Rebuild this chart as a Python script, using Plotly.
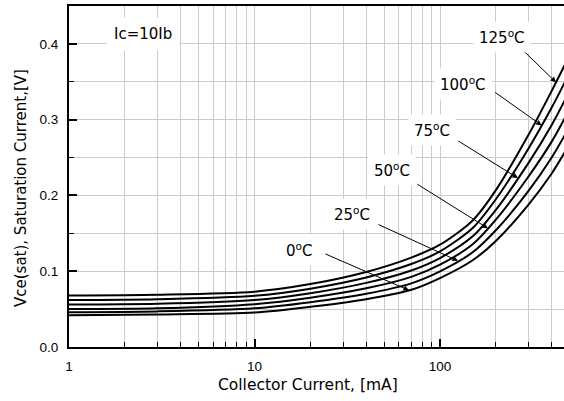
import numpy as np
import plotly.graph_objects as go

# ---- data ----
current_mA = [1, 3, 10, 20, 40, 70, 100, 150, 200, 300, 400, 500]
temp_labels = ["0", "25", "50", "75", "100", "125"]
vce_0C   = [0.042, 0.043, 0.0455, 0.053, 0.063, 0.0755, 0.091, 0.1145, 0.140, 0.188, 0.229, 0.268]
vce_25C  = [0.046, 0.047, 0.051, 0.059, 0.0702, 0.084, 0.0998, 0.125, 0.154, 0.206, 0.250, 0.291]
vce_50C  = [0.050, 0.051, 0.0565, 0.065, 0.0774, 0.0925, 0.1086, 0.1355, 0.168, 0.225, 0.271, 0.314]
vce_75C  = [0.056, 0.057, 0.062, 0.071, 0.0846, 0.101, 0.1174, 0.146, 0.181, 0.243, 0.293, 0.338]
vce_100C = [0.062, 0.063, 0.0675, 0.077, 0.0918, 0.1095, 0.1262, 0.157, 0.195, 0.262, 0.316, 0.362]
vce_125C = [0.068, 0.069, 0.073, 0.083, 0.099, 0.118, 0.135, 0.167, 0.207, 0.280, 0.338, 0.385]
series = [vce_0C, vce_25C, vce_50C, vce_75C, vce_100C, vce_125C]

x_major = [1, 10, 100]
x_major_text = ["1", "10", "100"]
x_minor = [2, 3, 4, 5, 6, 7, 8, 9, 20, 30, 40, 50, 60, 70, 80, 90, 200, 300, 400]
y_major = [0.0, 0.1, 0.2, 0.3, 0.4]
y_major_text = ["0.0", "0.1", "0.2", "0.3", "0.4"]

# where each label's arrow touches its curve (collector current, mA)
arrow_current = [68, 125, 181, 263, 353, 422]

FONT = "Liberation Sans, Arial, sans-serif"
LFONT = "DejaVu Sans, sans-serif"
W, H = 564, 401
L, R, T, B = 69, 564, 6, 347

def px(xp):
    return (xp - L) / (R - L)

def py(yp):
    return (B - yp) / (B - T)

fig = go.Figure()
for vals in series:
    fig.add_trace(go.Scatter(x=current_mA, y=vals, mode="lines",
                             line=dict(color="black", width=2, shape="spline", smoothing=0.8),
                             showlegend=False, hoverinfo="skip"))

# label positions (pixels) and arrow tail offsets (pixels relative to head)
label_pos = [(299, 250), (352, 214), (392, 170), (432, 130), (463, 84), (502, 37)]
arrow_off = [(-85, -37), (-81, -37), (-72, -45), (-61, -38), (-48, -34), (-34, -33)]

annotations = []
lx = np.log10(current_mA)
for t, vals, xc, (lpx, lpy), (ax, ay) in zip(temp_labels, series, arrow_current, label_pos, arrow_off):
    yv = float(np.interp(np.log10(xc), lx, vals))
    annotations.append(dict(x=np.log10(xc), y=yv, xref="x", yref="y", text="",
                            showarrow=True, ax=ax, ay=ay, arrowhead=2, arrowsize=1.1,
                            arrowwidth=1, arrowcolor="black"))
    annotations.append(dict(x=px(lpx), y=py(lpy), xref="paper", yref="paper",
                            text=f"{t}<sup>o</sup>C", showarrow=False,
                            font=dict(family=LFONT, size=15, color="black"),
                            bgcolor="white", borderpad=5,
                            xanchor="center", yanchor="middle"))

annotations.append(dict(x=px(143), y=py(34), xref="paper", yref="paper", text="Ic=10Ib",
                        showarrow=False, font=dict(family=LFONT, size=15, color="black"),
                        bgcolor="white", borderpad=7, xanchor="center", yanchor="middle"))
annotations.append(dict(x=px(308), y=py(385), xref="paper", yref="paper",
                        text="Collector Current, [mA]", showarrow=False,
                        font=dict(family=LFONT, size=15.5, color="black"),
                        xanchor="center", yanchor="middle"))
annotations.append(dict(x=px(21), y=py(188), xref="paper", yref="paper",
                        text="Vce(sat), Saturation Current,[V]", showarrow=False, textangle=-90,
                        font=dict(family=LFONT, size=15, color="black"),
                        xanchor="center", yanchor="middle"))

GRID = "#cccccc"
fig.update_layout(
    width=W, height=H,
    margin=dict(l=L, r=W - R, t=T, b=H - B),
    paper_bgcolor="white", plot_bgcolor="white",
    font=dict(family=FONT, size=13.5, color="black"),
    annotations=annotations,
    xaxis=dict(type="log", range=[0, np.log10(466)],
               tickmode="array", tickvals=x_major, ticktext=x_major_text,
               ticks="inside", ticklen=8, tickwidth=1.5, tickcolor="black",
               showline=True, linecolor="black", linewidth=2, mirror=True,
               showgrid=True, gridcolor=GRID, gridwidth=1, zeroline=False,
               ticklabelstandoff=6,
               minor=dict(tickmode="array", tickvals=x_minor, ticks="inside", ticklen=5,
                          tickwidth=1, tickcolor="black", showgrid=True,
                          gridcolor=GRID, gridwidth=1)),
    yaxis=dict(range=[0, 0.45], tickmode="array", tickvals=y_major, ticktext=y_major_text,
               ticks="inside", ticklen=8, tickwidth=1.5, tickcolor="black",
               showline=True, linecolor="black", linewidth=2,
               showgrid=True, gridcolor=GRID, gridwidth=1, zeroline=False,
               ticklabelstandoff=6,
               minor=dict(dtick=0.05, tick0=0, ticks="inside", ticklen=5, tickwidth=1,
                          tickcolor="black", showgrid=True, gridcolor=GRID, gridwidth=1)),
)

fig.write_html("out.html")
